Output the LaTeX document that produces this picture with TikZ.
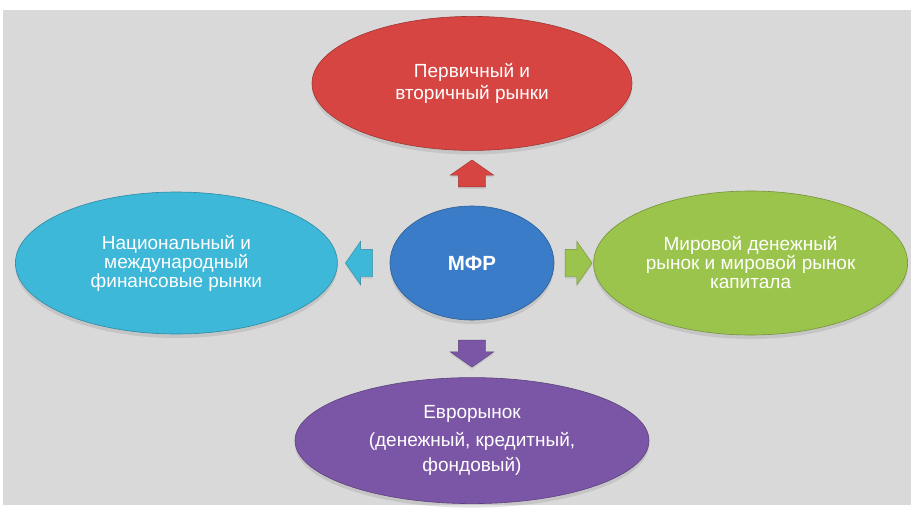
\documentclass[tikz,border=0pt]{standalone}
\usepackage{fontspec}
\setmainfont{Liberation Sans}
\usetikzlibrary{shapes, arrows, positioning, calc, shadows}
\definecolor{bgc}{RGB}{217,217,217}
\definecolor{redc}{RGB}{214,69,65}
\definecolor{bluec}{RGB}{58,124,199}
\definecolor{cyanc}{RGB}{61,184,216}
\definecolor{greenc}{RGB}{155,196,76}
\definecolor{violc}{RGB}{124,86,166}
\tikzstyle{oval} = [ellipse, inner sep=0pt, align=center, text=white, line width=0.6pt, font=\fontsize{19}{19}\selectfont, drop shadow={shadow xshift=0pt, shadow yshift=-4pt, opacity=0.22}]
\tikzstyle{arr} = [single arrow, inner xsep=0pt, inner ysep=13.5pt, minimum height=27pt, single arrow head extend=8pt, single arrow tip angle=110, line width=0.4pt, drop shadow={shadow xshift=0pt, shadow yshift=-2pt, opacity=0.2}]

\begin{document}
\begin{tikzpicture}[x=1pt, y=-1pt]
	\useasboundingbox (0,0) rectangle (911,514);
	\fill [bgc] (3,10) rectangle (911,505);

	\node [oval, fill=bluec, draw=bluec!75!black, minimum width=164pt, minimum height=114pt, font=\fontsize{20.5}{22}\selectfont\bfseries] (mfr) at (472,263) {МФР};
	\node [oval, fill=redc, draw=redc!75!black, minimum width=320pt, minimum height=134pt, above=55pt of mfr] (red) {Первичный и\\[2.6pt] вторичный рынки};
	\node [oval, fill=cyanc, draw=cyanc!75!black, minimum width=322pt, minimum height=142pt, left=52pt of mfr] (cyan) {Национальный и\\ международный\\ финансовые рынки};
	\node [oval, fill=greenc, draw=greenc!75!black, minimum width=314pt, minimum height=144pt, right=39pt of mfr] (green) {Мировой денежный\\ рынок и мировой рынок\\ капитала};
	\node [oval, fill=violc, draw=violc!75!black, minimum width=354pt, minimum height=126pt, below=57pt of mfr] (viol) {Еврорынок\\[9.4pt] (денежный, кредитный,\\[6pt] фондовый)};

	\node [arr, fill=redc, draw=redc!75!black, rotate=90] (upa) at ($(mfr.north)!0.5!(red.south)$) {};
	\node [arr, fill=cyanc, draw=cyanc!75!black, rotate=180] (lefta) at ($(mfr.west)!0.5!(cyan.east)$) {};
	\node [arr, fill=greenc, draw=greenc!75!black] (righta) at ($(mfr.east)!0.5!(green.west)$) {};
	\node [arr, fill=violc, draw=violc!75!black, rotate=-90] (downa) at ($(mfr.south)!0.5!(viol.north)$) {};
\end{tikzpicture}
\end{document}
